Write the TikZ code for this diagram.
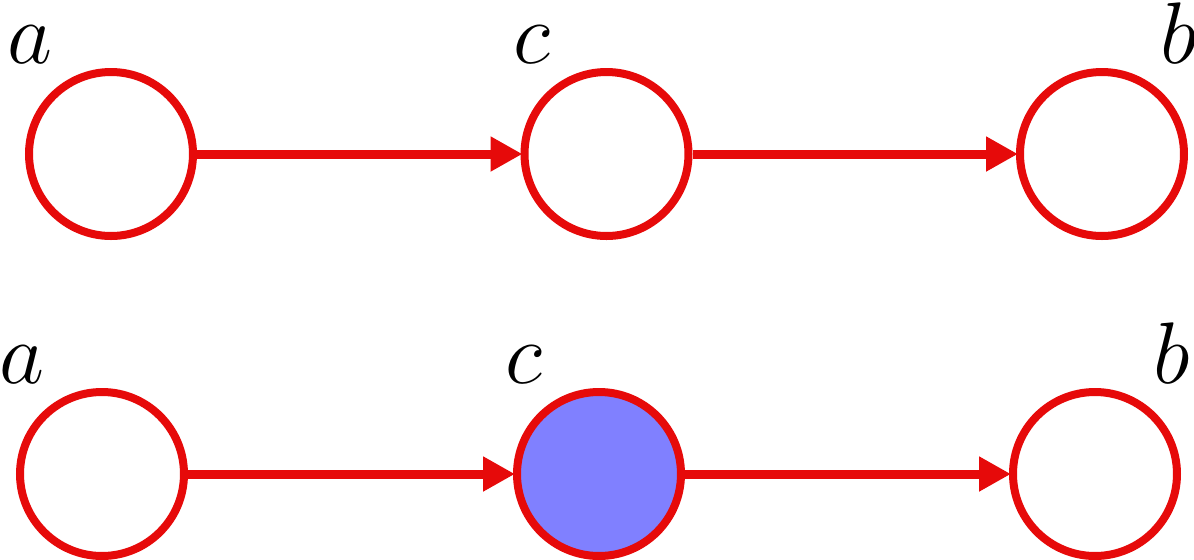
\documentclass[tikz,border=0pt]{standalone}
\usepackage{amsmath}
\usepackage{tikz}
\usetikzlibrary{
  arrows.meta,
  positioning
}
\definecolor{nodered}{RGB}{230,10,10}
\definecolor{obsblue}{RGB}{128,128,255}

\begin{document}
\begin{tikzpicture}[auto,
            varnode/.style={circle, draw=nodered, line width=0.08cm, fill=white, minimum size=1.64cm, inner sep=0pt},
            obsnode/.style={varnode, fill=obsblue},
            varlabel/.style={inner sep=0pt, anchor=base, font=\fontsize{23}{28}\selectfont},
            edge/.style={draw=nodered, line width=0.09cm, -{Triangle[length=0.32cm,width=0.33cm]}, shorten >=-0.02cm}]
            \useasboundingbox (0,0) rectangle (11.94,5.59);
            % unobserved c
            \node [varnode] (a1) at (1.11,4.05) {};
            \node [varnode] (c1) at (6.065,4.05) {};
            \node [varnode] (b1) at (11.02,4.05) {};
            \node [varlabel] (la1) at (0.30,4.96) {$a$};
            \node [varlabel] (lc1) at (5.32,4.96) {$c$};
            \node [varlabel] (lb1) at (11.79,4.96) {$b$};
            \draw [edge] (a1) -- (c1);
            \draw [edge] (c1) -- (b1);
            % observed c
            \node [varnode] (a2) at (1.02,0.85) {};
            \node [obsnode] (c2) at (5.99,0.85) {};
            \node [varnode] (b2) at (10.95,0.85) {};
            \node [varlabel] (la2) at (0.22,1.76) {$a$};
            \node [varlabel] (lc2) at (5.24,1.76) {$c$};
            \node [varlabel] (lb2) at (11.72,1.76) {$b$};
            \draw [edge] (a2) -- (c2);
            \draw [edge] (c2) -- (b2);
        \end{tikzpicture}
\end{document}
